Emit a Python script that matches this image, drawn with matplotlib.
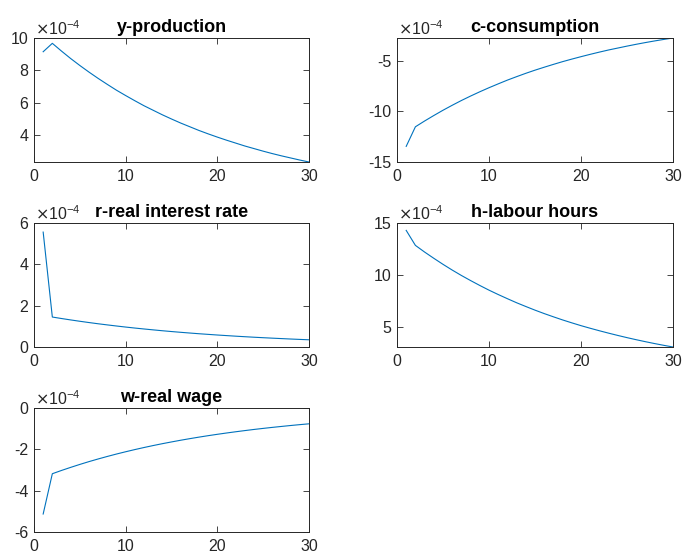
import matplotlib
matplotlib.use("Agg")
import matplotlib.pyplot as plt

plt.rcParams['font.family'] = ['Liberation Sans', 'DejaVu Sans']
plt.rcParams['axes.unicode_minus'] = False

periods = list(range(1, 31))

y_production = [9.15, 9.67, 9.19, 8.73, 8.30, 7.89, 7.50, 7.13, 6.77, 6.44,
                6.12, 5.81, 5.53, 5.25, 4.99, 4.74, 4.51, 4.28, 4.07, 3.87,
                3.68, 3.50, 3.32, 3.16, 3.00, 2.85, 2.71, 2.58, 2.45, 2.33]
c_consumption = [-13.46, -11.53, -10.96, -10.42, -9.90, -9.41, -8.94, -8.50, -8.08, -7.68,
                 -7.30, -6.93, -6.59, -6.26, -5.95, -5.66, -5.38, -5.11, -4.86, -4.62,
                 -4.39, -4.17, -3.96, -3.77, -3.58, -3.40, -3.23, -3.07, -2.92, -2.78]
r_interest = [5.56, 1.450, 1.378, 1.310, 1.245, 1.183, 1.124, 1.069, 1.016, 0.965,
              0.917, 0.872, 0.829, 0.787, 0.748, 0.711, 0.676, 0.642, 0.611, 0.580,
              0.552, 0.524, 0.498, 0.473, 0.450, 0.428, 0.407, 0.386, 0.367, 0.349]
h_hours = [14.29, 12.85, 12.21, 11.61, 11.03, 10.48, 9.96, 9.47, 9.00, 8.55,
           8.13, 7.73, 7.34, 6.98, 6.63, 6.30, 5.99, 5.69, 5.41, 5.14,
           4.89, 4.65, 4.42, 4.20, 3.99, 3.79, 3.60, 3.42, 3.25, 3.09]
w_wage = [-5.13, -3.180, -3.022, -2.873, -2.730, -2.594, -2.466, -2.344, -2.227, -2.117,
          -2.012, -1.912, -1.817, -1.727, -1.642, -1.560, -1.483, -1.409, -1.339, -1.273,
          -1.210, -1.150, -1.093, -1.038, -0.987, -0.938, -0.892, -0.847, -0.805, -0.765]

titles = ['y-production', 'c-consumption', 'r-real interest rate', 'h-labour hours', 'w-real wage']
series = [y_production, c_consumption, r_interest, h_hours, w_wage]
ylims = [(min(y_production), 10), (-15, max(c_consumption)), (0, 6),
         (min(h_hours), 15), (-6, 0)]
yticks = [[4, 6, 8, 10], [-15, -10, -5], [0, 2, 4, 6], [5, 10, 15], [-6, -4, -2, 0]]
xticks = [0, 10, 20, 30]

W, H = 682, 551
fig = plt.figure(figsize=(W / 100, H / 100), dpi=100)
cols = [(34, 309), (397, 673)]
rows = [(38, 162), (223, 347), (408, 532)]

dark = '#262626'
for i, (title, data) in enumerate(zip(titles, series)):
    r, c = divmod(i, 2)
    x0, x1 = cols[c]
    t, b = rows[r]
    ax = fig.add_axes([x0 / W, 1 - b / H, (x1 - x0) / W, (b - t) / H])
    ax.plot(periods, data, color='#0072BD', lw=0.8)
    ax.set_xlim(0, 30)
    ax.set_ylim(*ylims[i])
    ax.set_xticks(xticks)
    ax.set_yticks(yticks[i])
    ax.tick_params(direction='in', length=4, width=0.6, top=True, right=True,
                   labelsize=11.5, colors=dark, pad=4)
    ax.tick_params(axis='x', pad=5)
    for s in ax.spines.values():
        s.set_color(dark)
        s.set_linewidth(0.7)
    ax.set_title(title, fontsize=13, fontweight='bold', pad=4.5, color='black')
    ax.text(0.005, 1.0, r'$\times$10$^{\mathregular{-4}}$', transform=ax.transAxes,
            ha='left', va='bottom', fontsize=11.5, color=dark)

fig.savefig('out.png', dpi=100)
